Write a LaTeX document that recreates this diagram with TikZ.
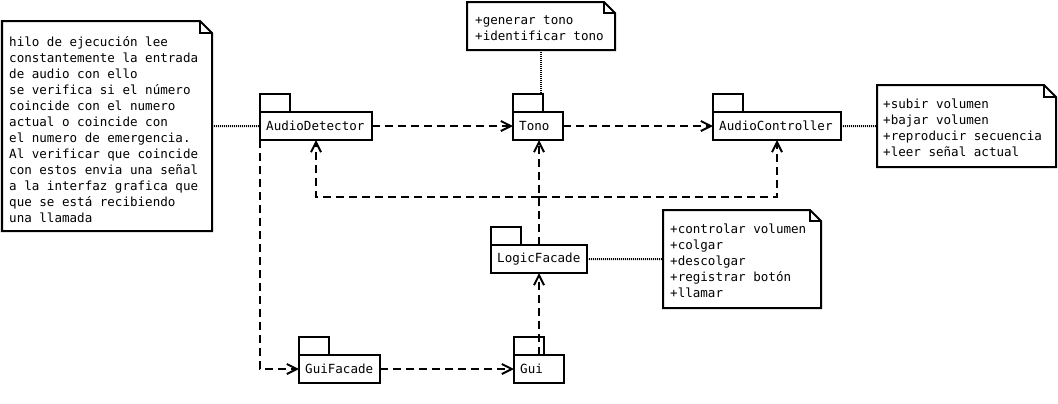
\documentclass[tikz,border=0pt]{standalone}
\usepackage{fontspec}
\newfontfamily\djm{DejaVu Sans Mono}
\usetikzlibrary{arrows.meta}
\tikzset{
  box/.style={draw, line width=2bp},
  pkgbody/.style={box, anchor=north west, minimum height=28bp, inner sep=0pt, outer sep=0pt},
  pkgtab/.style={box, anchor=south west, minimum width=30bp, minimum height=18bp, inner sep=0pt, outer sep=0pt},
  lbl/.style={font=\djm\fontsize{12.6}{16}\selectfont, anchor=west, inner sep=0pt},
  notearea/.style={anchor=north west, inner sep=0pt, outer sep=0pt},
  notetxt/.style={font=\djm\fontsize{12.6}{16.06}\selectfont, align=left, anchor=north west, inner sep=0pt, execute at begin node=\rule{0pt}{10bp}},
  dep/.style={line width=2bp, dash pattern=on 8bp off 5bp, -{Straight Barb[length=10bp,width=10bp]}},
  dotl/.style={line width=2bp, dash pattern=on 1bp off 1bp},
}
\newcommand\drawnote[2]{%
  \draw[box] (#1.north west) -- ([xshift=-#2]#1.north east) -- ([yshift=-#2]#1.north east) -- (#1.south east) -- (#1.south west) -- cycle;
  \draw[line width=1.2bp] ([xshift=-#2]#1.north east) -- ([xshift=-#2,yshift=-#2]#1.north east) -- ([yshift=-#2]#1.north east);
}
\begin{document}
\begin{tikzpicture}[x=1bp,y=-1bp]
\fill[white] (0,0) rectangle (1058,403);
\useasboundingbox (0,0) rectangle (1058,403);

% packages
\node[pkgbody, minimum width=112bp] (ad) at (260,112) {};
\node[pkgtab] (adt) at (ad.north west) {};
\node[lbl] (adl) at ([xshift=6bp]ad.west) {AudioDetector};

\node[pkgbody, minimum width=50bp] (to) at (513,112) {};
\node[pkgtab] (tot) at (to.north west) {};
\node[lbl] (tol) at ([xshift=6bp]to.west) {Tono};

\node[pkgbody, minimum width=128bp] (ac) at (713,112) {};
\node[pkgtab] (act) at (ac.north west) {};
\node[lbl] (acl) at ([xshift=6bp]ac.west) {AudioController};

\node[pkgbody, minimum width=96bp] (lf) at (491,245) {};
\node[pkgtab] (lft) at (lf.north west) {};
\node[lbl] (lfl) at ([xshift=6bp]lf.west) {LogicFacade};

\node[pkgbody, minimum width=81bp] (gf) at (299,355) {};
\node[pkgtab] (gft) at (gf.north west) {};
\node[lbl] (gfl) at ([xshift=6bp]gf.west) {GuiFacade};

\node[pkgbody, minimum width=50bp] (gui) at (514,355) {};
\node[pkgtab] (guit) at (gui.north west) {};
\node[lbl] (guil) at ([xshift=6bp]gui.west) {Gui};

% notes
\node[notearea, minimum width=210bp, minimum height=210bp] (n1) at (2,21) {};
\drawnote{n1}{12bp}
\node[notetxt] (n1t) at (9,36.5) {hilo de ejecución lee\\constantemente la entrada\\de audio con ello\\se verifica si el número\\coincide con el numero\\actual o coincide con\\el numero de emergencia.\\Al verificar que coincide\\con estos envia una señal\\a la interfaz grafica que\\que se está recibiendo\\una llamada};

\node[notearea, minimum width=148bp, minimum height=48bp] (n2) at (467,2) {};
\drawnote{n2}{11bp}
\node[notetxt] (n2t) at (475,15.5) {+generar tono\\+identificar tono};

\node[notearea, minimum width=179bp, minimum height=82bp] (n3) at (877,85) {};
\drawnote{n3}{12bp}
\node[notetxt] (n3t) at (883,98.5) {+subir volumen\\+bajar volumen\\+reproducir secuencia\\+leer señal actual};

\node[notearea, minimum width=158bp, minimum height=98bp] (n4) at (663,210) {};
\drawnote{n4}{11bp}
\node[notetxt] (n4t) at (670,223.5) {+controlar volumen\\+colgar\\+descolgar\\+registrar botón\\+llamar};

% note connectors
\draw[dotl] (n1.east) -- (ad.west);
\draw[dotl] (n2.south) -- (n2.south |- tot.north);
\draw[dotl] (ac.east) -- (n3.west);
\draw[dotl] (lf.east) -- (n4.west);

% dependencies
\draw[dep] (ad.east) -- (to.west);
\draw[dep] (to.east) -- (ac.west);
\coordinate (j) at (539,197);
\draw[dep] (lf.north) -- (lf.north |- to.south);
\draw[dep] (j) -| (ad.south);
\draw[dep] (j) -| (ac.south);
\draw[dep] (gui.north) -- (gui.north |- lf.south);
\draw[dep] (ad.south west) |- (gf.west);
\draw[dep] (gf.east) -- (gui.west);
\end{tikzpicture}
\end{document}
